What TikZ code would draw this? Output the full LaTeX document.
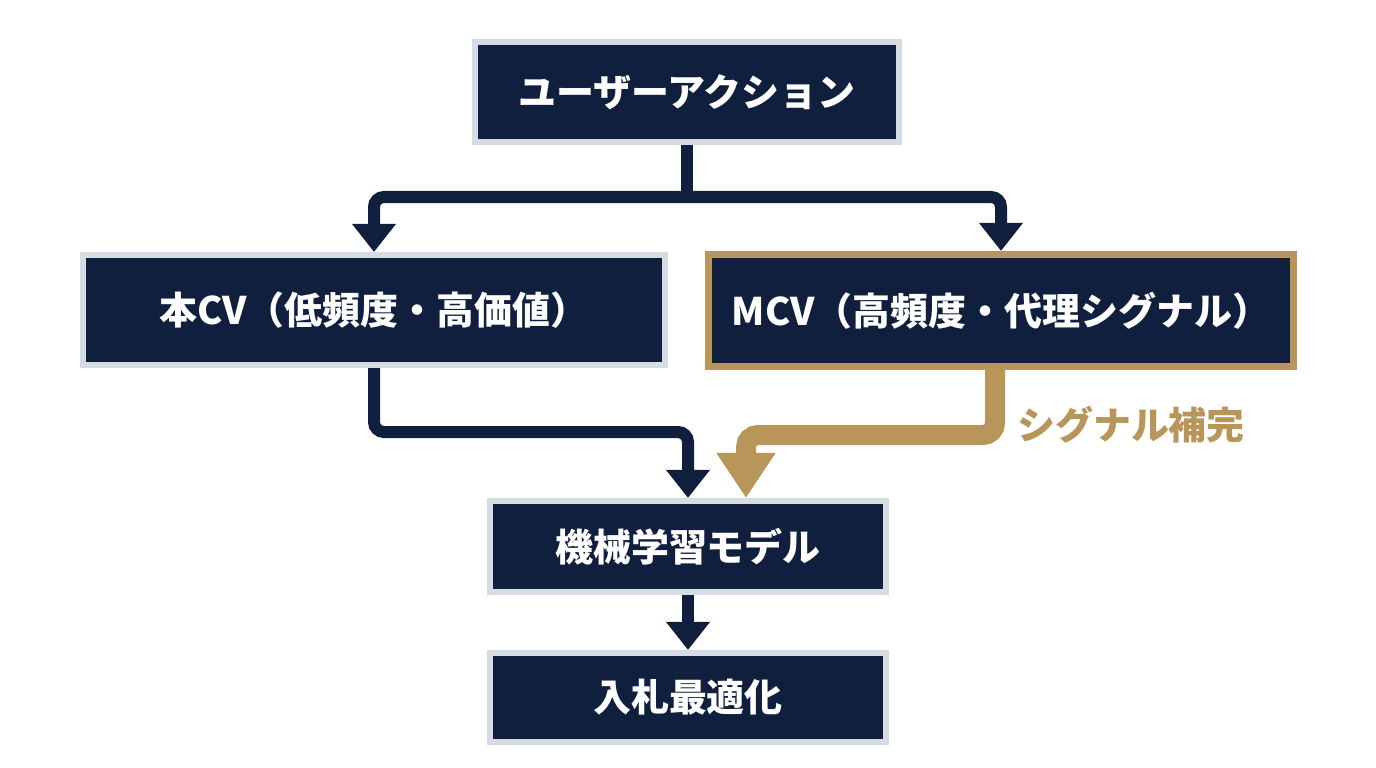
\documentclass[tikz,border=0pt]{standalone}
\usepackage{fontspec}
\setmainfont{Noto Sans CJK JP}
\usepackage{xcolor}
\usetikzlibrary{arrows.meta, positioning, calc}
\definecolor{navy}{HTML}{0F1F3D}
\definecolor{rim}{HTML}{D6DCE4}
\definecolor{goldc}{HTML}{B8965A}
\begin{document}
\begin{tikzpicture}[
    x=0.025cm, y=-0.025cm,
    every node/.style={font=\bfseries\fontsize{27}{32}\selectfont},
    box/.style={draw=rim, line width=0.15cm, fill=navy, text=white, inner sep=0pt},
    gbox/.style={box, draw=goldc, line width=0.175cm},
    nav/.style={draw=navy, line width=0.3cm, rounded corners=0.25cm, -{Triangle[width=1.05cm, length=0.7cm]}},
    gl/.style={draw=goldc, line width=0.5cm, rounded corners=0.3cm, -{Triangle[width=1.4cm, length=1.125cm]}},
    lab/.style={text=goldc}
]
\useasboundingbox (0,0) rectangle (1376,768);
\node[box, minimum width=10.6cm, minimum height=2.475cm] (act) at (687,92) {ユーザーアクション};
\node[box, minimum width=14.55cm, minimum height=2.75cm] (cv) at (374,310) {本CV（低頻度・高価値）};
\node[gbox, minimum width=14.625cm, minimum height=2.8cm] (mcv) at (1001,310.5) {MCV（高頻度・代理シグナル）};
\node[box, minimum width=9.9cm, minimum height=2.275cm] (ml) at (688,546.5) {機械学習モデル};
\node[box, minimum width=9.9cm, minimum height=2.225cm] (bid) at (688,697.5) {入札最適化};
\node[lab] (sig) at (1131,425) {シグナル補完};
\coordinate (split) at (687,197);
% branches from the action
\draw[nav, -] (act.south) -- (split);
\draw[nav] (split) -| (cv.north);
\draw[nav] (split) -| (mcv.north);
% into the model
\draw[nav] (cv.south) -- ++(0,64) -| (ml.north);
\draw[gl] ($(mcv.south)+(-6,0)$) -- ++(0,65) -| ($(ml.north)+(58,0)$);
\draw[nav] (ml) -- (bid);
\end{tikzpicture}
\end{document}
